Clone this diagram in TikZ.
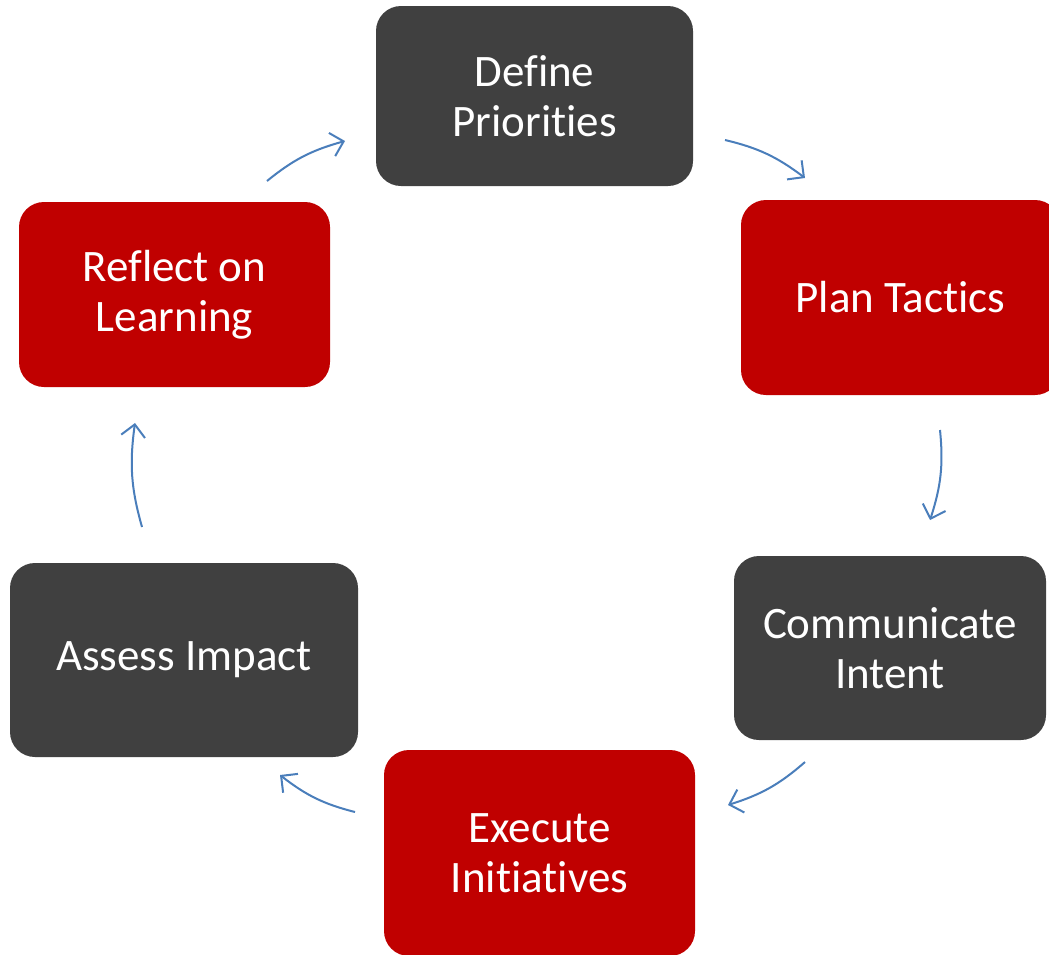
\documentclass[tikz,border=0pt]{standalone}
\usepackage{fontspec}
\setmainfont{Carlito}[Ligatures=NoCommon]
\usetikzlibrary{arrows.meta,bending}
\definecolor{cycgray}{HTML}{404040}
\definecolor{cycred}{HTML}{C00000}
\definecolor{cycblue}{HTML}{4A7EBB}
\tikzset{
  bx/.style={rounded corners=25pt, align=center, text=white, inner sep=0pt,
    font=\fontsize{45}{50}\selectfont},
  gry/.style={bx, fill=cycgray},
  rd/.style={bx, fill=cycred},
  arr/.style={-{Straight Barb[length=12pt,width=24pt,line width=2pt]}, line width=2pt, color=cycblue, bend left=12},
}
\begin{document}
\begin{tikzpicture}[x=1pt,y=-1pt]
  \useasboundingbox (0,0) rectangle (1049,954);
  \node[gry, minimum width=317pt, minimum height=180pt] (def) at (534.5,96) {Define\\Priorities};
  \node[rd, minimum width=319pt, minimum height=195pt] (plan) at (900.5,297.5) {Plan Tactics};
  \node[gry, minimum width=312pt, minimum height=184pt] (comm) at (890,648) {Communicate\\Intent};
  \node[rd, minimum width=311pt, minimum height=206pt] (exec) at (539.5,853) {Execute\\Initiatives};
  \node[gry, minimum width=348pt, minimum height=194pt] (assess) at (184,660) {Assess Impact};
  \node[rd, minimum width=311pt, minimum height=185pt] (refl) at (174.5,294.5) {Reflect on\\Learning};
  % arrow ends
  \coordinate (r1) at (267,181); \coordinate (d1) at (345,141);
  \coordinate (d2) at (725,140); \coordinate (p1) at (805,178);
  \coordinate (p2) at (940,430); \coordinate (c1) at (930,520);
  \coordinate (c2) at (805,762); \coordinate (e1) at (728,805);
  \coordinate (e2) at (355,812); \coordinate (a1) at (280,775);
  \coordinate (a2) at (142,527); \coordinate (r2) at (135,423);
  \foreach \a/\b in {r1/d1,d2/p1,p2/c1,c2/e1,e2/a1,a2/r2} \draw[arr] (\a) to (\b);
\end{tikzpicture}
\end{document}
